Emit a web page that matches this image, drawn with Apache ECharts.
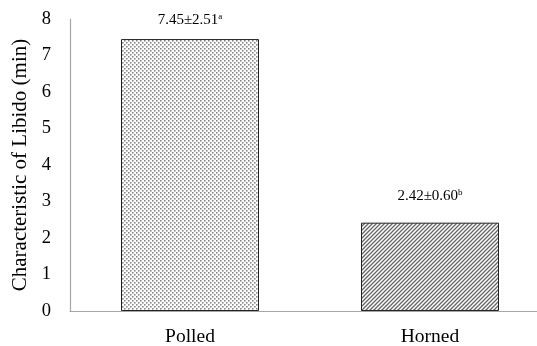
<!DOCTYPE html>
<html><head><meta charset="utf-8">
<script src="https://cdn.jsdelivr.net/npm/echarts@6/dist/echarts.min.js"></script>
<style>html,body{margin:0;padding:0;background:#fff}#c{width:537px;height:346px}</style>
</head><body><div id="c"></div>
<script>
var categories = ['Polled', 'Horned'];
var means = [7.45, 2.42];
var sds = ['2.51', '0.60'];
var letters = ['a', 'b'];
var yTicks = [0, 1, 2, 3, 4, 5, 6, 7, 8];

function dotPattern() {
  var c = document.createElement('canvas'); c.width = 4; c.height = 4;
  var g = c.getContext('2d');
  g.fillStyle = '#fff'; g.fillRect(0, 0, 4, 4);
  g.fillStyle = '#8a8a8a';
  g.fillRect(0, 0, 1.6, 1.6);
  g.fillRect(2, 2, 1.6, 1.6);
  return c;
}
function hatchPattern() {
  var c = document.createElement('canvas'); c.width = 4; c.height = 4;
  var g = c.getContext('2d');
  g.fillStyle = '#fff'; g.fillRect(0, 0, 4, 4);
  g.strokeStyle = '#666'; g.lineWidth = 1.3;
  g.beginPath();
  g.moveTo(-1, 5); g.lineTo(5, -1);
  g.moveTo(-3, 3); g.lineTo(3, -3);
  g.moveTo(1, 7); g.lineTo(7, 1);
  g.stroke();
  return c;
}
var patterns = [dotPattern(), hatchPattern()];
var distances = [10, 18];
var font = '"Liberation Serif", "Times New Roman", serif';

var chart = echarts.init(document.getElementById('c'));
chart.setOption({
  animation: false,
  grid: { left: 70, top: 19, bottom: 35, width: 480, outerBoundsMode: 'none', containLabel: false },
  xAxis: {
    type: 'category', data: categories,
    axisLine: { lineStyle: { color: '#a6a6a6', width: 1.2 } },
    axisTick: { show: false },
    axisLabel: { color: '#000', fontFamily: font, fontSize: 19.5, margin: 16 }
  },
  yAxis: {
    type: 'value', min: yTicks[0], max: yTicks[yTicks.length - 1], interval: 1,
    name: 'Characteristic of Libido (min)', nameLocation: 'middle', nameGap: 36,
    nameTextStyle: { color: '#000', fontFamily: font, fontSize: 21 },
    axisLine: { show: true, lineStyle: { color: '#a6a6a6', width: 1.2 } },
    axisTick: { show: false },
    splitLine: { show: false },
    axisLabel: { color: '#000', fontFamily: font, fontSize: 18.5, margin: 19 }
  },
  series: [{
    type: 'bar', barWidth: 138,
    data: means.map(function (v, i) {
      return {
        value: v,
        itemStyle: { color: { image: patterns[i], repeat: 'repeat' }, borderColor: '#222', borderWidth: 1 },
        label: { distance: distances[i] }
      };
    }),
    label: {
      show: true, position: 'top',
      formatter: function (p) { return '{v|' + means[p.dataIndex].toFixed(2) + '±' + sds[p.dataIndex] + '}{s|' + letters[p.dataIndex] + '}'; },
      rich: {
        v: { fontFamily: font, fontSize: 15, color: '#000', lineHeight: 18 },
        s: { fontFamily: font, fontSize: 9, color: '#000', lineHeight: 18, verticalAlign: 'top', padding: [1, 0, 0, 0] }
      }
    }
  }]
});
</script></body></html>
